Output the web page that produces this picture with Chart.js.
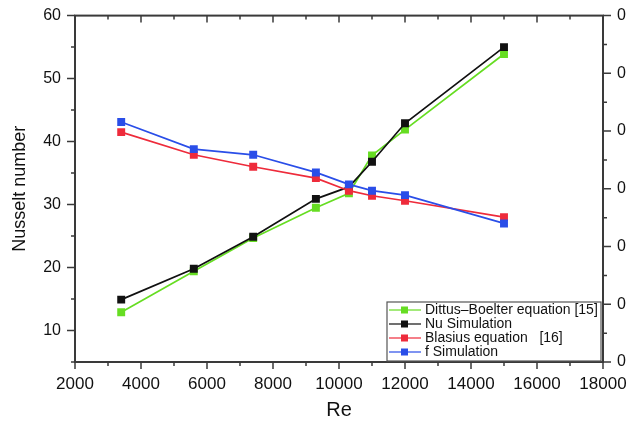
<!DOCTYPE html>
<html>
<head>
<meta charset="utf-8">
<script src="https://cdn.jsdelivr.net/npm/chart.js@4.4.0/dist/chart.umd.min.js"></script>
<style>
  html, body { margin: 0; padding: 0; background: #fff; }
  #wrap { width: 640px; height: 428px; }
</style>
</head>
<body>
<div id="wrap"><canvas id="c" width="640" height="428"></canvas></div>
<script>
// Reynolds numbers of the simulated cases
const reValues = [3400, 5600, 7400, 9300, 10300, 11000, 12000, 15000];

// Nusselt number series
const dittusBoelter = [12.9, 19.4, 24.7, 29.5, 31.8, 37.8, 41.9, 53.9];
const nuSimulation = [14.9, 19.8, 24.9, 30.9, 32.8, 36.8, 42.9, 55.0];

// friction factor series (plotted against the same left scale in the figure)
const blasius = [41.5, 37.9, 36.0, 34.2, 32.2, 31.4, 30.6, 28.0];
const fSimulation = [43.1, 38.8, 37.9, 35.1, 33.2, 32.2, 31.5, 27.0];

const seriesLabels = ['Dittus\u2013Boelter equation [15]', 'Nu Simulation', 'Blasius equation   [16]', 'f Simulation'];
const seriesColors = ['#66dd22', '#111111', '#ee2b3b', '#2a4ee8'];

const FONT = "'Liberation Sans', Arial, sans-serif";
const AXIS = '#3a3a3a';

function pts(ys) {
    return reValues.map((x, i) => ({ x: x, y: ys[i] }));
}

function dataset(i, ys, order) {
    return {
        label: seriesLabels[i],
        data: pts(ys),
        borderColor: seriesColors[i],
        backgroundColor: seriesColors[i],
        borderWidth: 1.7,
        pointStyle: 'rect',
        pointRadius: 5.6,
        pointBorderWidth: 0,
        pointHoverRadius: 5.6,
        tension: 0,
        order: order
    };
}

// axes frame with inner / outer tick marks, like the Origin plot
const framePlugin = {
    id: 'frame',
    afterDatasetsDraw(chart) {
        const { ctx, chartArea: a, scales } = chart;
        ctx.save();
        ctx.strokeStyle = AXIS;
        ctx.lineWidth = 2;
        ctx.strokeRect(a.left, a.top, a.right - a.left, a.bottom - a.top);
        ctx.lineWidth = 1.5;
        ctx.beginPath();
        scales.x.ticks.forEach(t => {
            const px = scales.x.getPixelForValue(t.value);
            const len = t.value % 2000 === 0 ? 7 : 4;
            ctx.moveTo(px, a.bottom); ctx.lineTo(px, a.bottom + len);
            ctx.moveTo(px, a.top); ctx.lineTo(px, a.top + len);
        });
        scales.y.ticks.forEach(t => {
            const py = scales.y.getPixelForValue(t.value);
            const len = t.value % 10 === 0 ? 8 : 4;
            ctx.moveTo(a.left, py); ctx.lineTo(a.left - len, py);
        });
        scales.y2.ticks.forEach(t => {
            const py = scales.y2.getPixelForValue(t.value);
            const len = Number.isInteger(t.value) ? 8 : 4;
            ctx.moveTo(a.right, py); ctx.lineTo(a.right + len, py);
        });
        ctx.stroke();
        ctx.restore();
    },
    afterDraw(chart) {
        // legend box in the lower right corner
        const { ctx, chartArea: a } = chart;
        const left = 387, top = 302, right = a.right - 2, bottom = a.bottom - 1;
        ctx.save();
        ctx.fillStyle = '#fff';
        ctx.fillRect(left, top, right - left, bottom - top);
        ctx.strokeStyle = '#555';
        ctx.lineWidth = 1.2;
        ctx.strokeRect(left, top, right - left, bottom - top);
        ctx.font = '14px ' + FONT;
        ctx.textBaseline = 'middle';
        chart.data.datasets.forEach((ds, i) => {
            const y = top + 8 + i * 14;
            ctx.strokeStyle = ds.borderColor;
            ctx.lineWidth = 1.2;
            ctx.beginPath();
            ctx.moveTo(left + 2, y); ctx.lineTo(left + 34, y);
            ctx.stroke();
            ctx.fillStyle = ds.borderColor;
            ctx.fillRect(left + 14, y - 3.5, 7, 7);
            ctx.fillStyle = '#111';
            ctx.fillText(ds.label, left + 38, y + 0.5);
        });
        ctx.restore();
    }
};

new Chart(document.getElementById('c'), {
    type: 'line',
    data: {
        datasets: [
            dataset(0, dittusBoelter, 3),
            dataset(1, nuSimulation, 2),
            dataset(2, blasius, 1),
            dataset(3, fSimulation, 0)
        ]
    },
    options: {
        responsive: false,
        animation: false,
        layout: { padding: { top: 13, left: 0, right: 0, bottom: 0 } },
        plugins: {
            legend: { display: false },
            tooltip: { enabled: false }
        },
        scales: {
            x: {
                type: 'linear',
                min: 2000,
                max: 18000,
                grid: { display: false, drawTicks: true, tickLength: 6 },
                border: { display: false },
                ticks: {
                    stepSize: 1000,
                    autoSkip: false,
                    maxRotation: 0,
                    padding: 6,
                    color: '#111',
                    font: { family: FONT, size: 17 },
                    callback: v => (v % 2000 === 0 ? String(v) : '')
                },
                title: {
                    display: true,
                    text: 'Re',
                    color: '#111',
                    font: { family: FONT, size: 20 },
                    padding: { top: 0, bottom: 6 }
                },
                afterFit: s => { s.height = 66; }
            },
            y: {
                position: 'left',
                min: 5,
                max: 60,
                grid: { display: false, drawTicks: true, tickLength: 8 },
                border: { display: false },
                ticks: {
                    stepSize: 5,
                    autoSkip: false,
                    padding: 6,
                    color: '#111',
                    font: { family: FONT, size: 16 },
                    callback: v => (v % 10 === 0 ? String(v) : '')
                },
                title: {
                    display: true,
                    text: 'Nusselt number',
                    color: '#111',
                    font: { family: FONT, size: 18 },
                    padding: { top: 9, bottom: 0 }
                },
                afterFit: s => { s.width = 75; }
            },
            y2: {
                position: 'right',
                min: 0,
                max: 6,
                grid: { display: false, drawTicks: true, tickLength: 8 },
                border: { display: false },
                ticks: {
                    stepSize: 0.5,
                    autoSkip: false,
                    padding: 6,
                    color: '#111',
                    font: { family: FONT, size: 16 },
                    callback: v => (Number.isInteger(v) ? '0' : '')
                },
                afterFit: s => { s.width = 37; }
            }
        }
    },
    plugins: [framePlugin]
});
</script>
</body>
</html>
